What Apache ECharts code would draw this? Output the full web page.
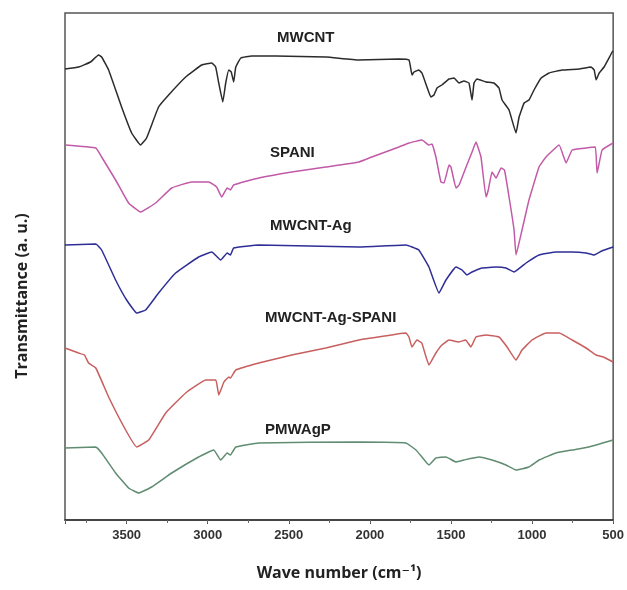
<!DOCTYPE html>
<html><head><meta charset="utf-8">
<script src="https://cdn.jsdelivr.net/npm/echarts@6/dist/echarts.min.js"></script>
<style>html,body{margin:0;padding:0;background:#fff}#c{width:627px;height:590px}</style>
</head><body><div id="c"></div>
<script>
// Wavenumber (cm-1) and transmittance (arbitrary, stacked offsets)
const mwcnt = [[3880,90.2],[3796,90.6],[3722,91.6],[3673,93],[3654,92.6],[3611,90],[3531,82.6],[3469,77.4],[3414,75],[3377,76.4],[3303,82.6],[3241,85],[3136,88.6],[3037,91],[2975,91.4],[2951,90.6],[2932,87.4],[2907,83.6],[2889,87.4],[2870,90],[2855,89.6],[2840,87.6],[2827,90.6],[2796,92.4],[2728,92.8],[2580,92.8],[2270,92.6],[2070,92],[1821,92.2],[1759,92],[1740,89],[1728,89.6],[1698,90],[1679,89.4],[1648,86.6],[1624,84.6],[1605,85],[1586,86.4],[1556,87],[1512,88.2],[1481,88.4],[1451,87.4],[1420,87.8],[1389,87.4],[1370,84],[1358,87.4],[1340,88.2],[1284,87.6],[1235,87.4],[1204,86.4],[1185,84],[1142,82],[1099,77.4],[1080,80.6],[1049,83.4],[1019,84],[988,86],[944,88.4],[895,89.4],[815,90],[710,90.2],[636,90.6],[617,90],[605,88],[586,89.4],[556,90.6],[506,93.6],[500,93.8]];
const spani = [[3880,75],[3690,74.4],[3654,72.6],[3568,68],[3488,63.4],[3414,61.6],[3321,63.4],[3222,66.4],[3100,67.6],[2994,67.6],[2945,66.6],[2914,64.6],[2880,66.4],[2860,66],[2840,67],[2685,68.4],[2482,69.6],[2272,70.6],[2068,71.6],[1988,72.6],[1821,74.6],[1759,75.4],[1679,76],[1636,75],[1617,75.2],[1593,72.6],[1562,67.6],[1543,67.4],[1512,71],[1500,70.6],[1469,66.4],[1450,67],[1407,70.6],[1370,73.6],[1346,75.6],[1315,72.6],[1284,64.6],[1270,66],[1247,69.6],[1222,68.4],[1191,70.4],[1170,70],[1142,64.6],[1111,58],[1099,53],[1062,58],[1019,64],[957,70.6],[914,72.6],[833,75],[790,71.4],[753,74],[667,74.4],[610,74.6],[599,69.4],[568,74],[500,75.4]];
const mwcntAg = [[3880,55],[3690,55.2],[3654,54],[3568,48],[3500,44],[3438,41.4],[3383,42],[3303,45.4],[3198,49.4],[3056,52.6],[2975,53.6],[2920,52],[2880,53.4],[2860,53],[2840,54.4],[2685,55],[2068,54.6],[1778,55],[1740,54.6],[1698,54],[1636,50.6],[1574,45.4],[1531,48],[1469,50.6],[1432,50],[1401,49],[1370,49.6],[1309,50.4],[1222,50.6],[1161,50.4],[1111,49.6],[1037,51.4],[957,53],[852,53.6],[753,53.6],[667,53.4],[617,53],[570,53.8],[500,54.6]];
const mwcntAgSpani = [[3880,34.4],[3796,33.4],[3760,33],[3735,31.4],[3690,30.4],[3611,24.6],[3506,18],[3438,14.6],[3364,16],[3259,21.4],[3136,25.4],[3012,28],[2950,28],[2932,25],[2900,27.6],[2870,28.6],[2860,28.4],[2827,30],[2685,31.4],[2482,33],[2272,34.4],[2068,36],[1988,36.4],[1778,37.4],[1759,36.6],[1741,34.6],[1710,36],[1680,35.4],[1636,31],[1593,33.4],[1556,35],[1512,36],[1451,35.6],[1410,36],[1377,34.6],[1346,36.6],[1284,37],[1204,36.6],[1154,34.6],[1099,32],[1062,34],[1000,36],[914,37.4],[833,37.4],[753,36],[667,34.4],[605,33],[560,32.6],[500,31.6]];
const pmwagp = [[3880,14.4],[3690,14.6],[3654,13.4],[3568,9.4],[3488,6.4],[3426,5.4],[3346,6.6],[3222,9.4],[3056,12.6],[2963,14],[2920,12],[2880,13.4],[2860,13],[2827,14.6],[2685,15.4],[2068,15.6],[1778,15.4],[1716,14],[1679,12.6],[1636,11],[1593,12.4],[1531,12.6],[1469,11.6],[1420,12],[1327,12.6],[1247,12],[1161,11],[1099,10],[1019,10.6],[957,12],[852,13.4],[753,14],[650,14.6],[500,16]];
const seriesNames = ['MWCNT','SPANI','MWCNT-Ag','MWCNT-Ag-SPANI','PMWAgP'];
const seriesData = [mwcnt, spani, mwcntAg, mwcntAgSpani, pmwagp];
const colors = ['#2b2b2b','#c25aa8','#2e2e96','#c85f5f','#5f8c72'];
const xMin = 500, xMax = 3880;

const chart = echarts.init(document.getElementById('c'));
const labelPos = [[277,38],[270,153],[270,226],[265,318],[265,430]];
chart.setOption({
  animation:false,
  backgroundColor:'#fff',
  grid:{left:65,right:13,top:13,bottom:70,show:true,borderColor:'#555',borderWidth:1.5},
  xAxis:[{
    type:'value',inverse:true,min:xMin,max:xMax,interval:500,position:'bottom',
    axisLine:{show:true,lineStyle:{color:'#333',width:1.5}},
    axisTick:{show:true,length:4,lineStyle:{color:'#444'}},
    splitLine:{show:false},
    axisLabel:{margin:9,color:'#333',fontFamily:'Liberation Sans',fontWeight:'bold',fontSize:13,
      formatter:v=> (v%500===0 ? String(v) : '')},
    name:'Wave number (cm⁻¹)',nameLocation:'middle',nameGap:45,
    nameTextStyle:{fontFamily:'Open Sans, DejaVu Sans',fontWeight:'bold',fontSize:16,color:'#222'}
  },{
    type:'value',inverse:true,min:xMin,max:xMax,interval:250,position:'bottom',
    axisLine:{show:false},axisLabel:{show:false},splitLine:{show:false},
    axisTick:{show:true,length:3,lineStyle:{color:'#666'}}
  }],
  yAxis:{type:'value',min:0,max:101.4,show:true,axisLine:{show:false},axisTick:{show:false},axisLabel:{show:false},splitLine:{show:false}},
  series: seriesNames.map((n,i)=>({
    name:n,type:'line',data:seriesData[i],showSymbol:false,smooth:0.1,
    lineStyle:{color:colors[i],width:1.5},xAxisIndex:0
  })),
  graphic:[
    {type:'text',x:22,y:296,rotation:Math.PI/2,style:{text:'Transmittance (a. u.)',x:0,y:0,align:'center',verticalAlign:'middle',
      font:'bold 16px "Open Sans"',fill:'#222'}}
  ].concat(seriesNames.map((n,i)=>({type:'text',x:labelPos[i][0],y:labelPos[i][1],
      style:{text:n,align:'left',verticalAlign:'middle',font:'bold 15px "Liberation Sans"',fill:'#222'}})))
});
</script></body></html>
